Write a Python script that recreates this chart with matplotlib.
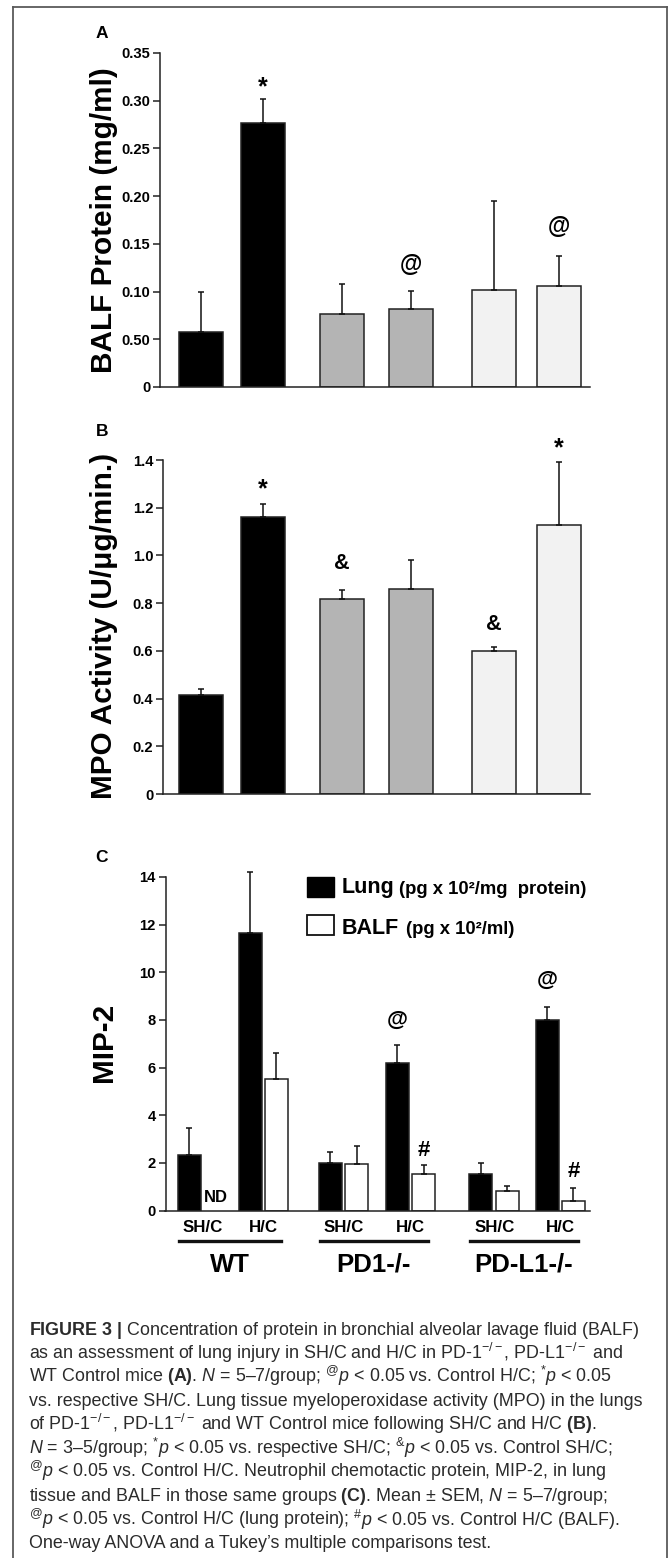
import numpy as np
import matplotlib

matplotlib.use("Agg")

import matplotlib.pyplot as plt
from matplotlib import font_manager
from matplotlib.lines import Line2D
from matplotlib.patches import Rectangle

W, H = 669, 1558

# values
groups = ["WT", "PD1-/-", "PD-L1-/-"]
conditions = ["SH/C", "H/C"]

balf_protein = [0.058, 0.277, 0.077, 0.082, 0.102, 0.106]
balf_protein_sem = [0.042, 0.025, 0.031, 0.019, 0.093, 0.031]

mpo_activity = [0.415, 1.162, 0.818, 0.858, 0.600, 1.128]
mpo_activity_sem = [0.025, 0.055, 0.039, 0.124, 0.018, 0.265]

mip2_lung = [2.32, 11.65, 2.0, 6.21, 1.53, 8.0]
mip2_lung_sem = [1.14, 2.55, 0.47, 0.73, 0.47, 0.56]
mip2_balf = [np.nan, 5.5, 1.95, 1.53, 0.82, 0.38]
mip2_balf_sem = [np.nan, 1.1, 0.77, 0.37, 0.21, 0.56]

protein_ticks = [0, 0.05, 0.10, 0.15, 0.20, 0.25, 0.30, 0.35]
protein_ticklabels = ["0", "0.50", "0.10", "0.15", "0.20", "0.25", "0.30", "0.35"]
mpo_ticks = [0, 0.2, 0.4, 0.6, 0.8, 1.0, 1.2, 1.4]
mpo_ticklabels = ["0", "0.2", "0.4", "0.6", "0.8", "1.0", "1.2", "1.4"]
mip2_ticks = [0, 2, 4, 6, 8, 10, 12, 14]
mip2_ticklabels = ["0", "2", "4", "6", "8", "10", "12", "14"]

# significance marks: (bar index, symbol, offset above error cap in px, size)
sig_a = [(1, "*", 11, 18), (3, "@", 26, 16.5), (5, "@", 30, 16.5)]
sig_b = [(1, "*", 14, 18), (2, "&", 26, 15.5), (4, "&", 22, 15.5), (5, "*", 13, 18)]
sig_c_lung = [(3, "@", 25, 15.5), (5, "@", 26, 15.5)]
sig_c_balf = [(3, "#", 15, 16), (5, "#", 17, 16)]

# caption, one list of (text, kind) runs per printed line
caption_lines = [
    [(r"$\mathbf{FIGURE\ 3\ |}$ Concentration of protein in bronchial alveolar lavage fluid (BALF)", "n")],
    [(r"as an assessment of lung injury in SH/C and H/C in PD-1$^{-/-}$, PD-L1$^{-/-}$ and", "n")],
    [(r"WT Control mice $\mathbf{(A)}$. $N$ = 5–7/group; $^{@}p$ < 0.05 vs. Control H/C; $^{*}p$ < 0.05", "n")],
    [(r"vs. respective SH/C. Lung tissue myeloperoxidase activity (MPO) in the lungs", "n")],
    [(r"of PD-1$^{-/-}$, PD-L1$^{-/-}$ and WT Control mice following SH/C and H/C $\mathbf{(B)}$.", "n")],
    [(r"$N$ = 3–5/group; $^{*}p$ < 0.05 vs. respective SH/C; $^{&}p$ < 0.05 vs. Control SH/C;", "n")],
    [(r"$^{@}p$ < 0.05 vs. Control H/C. Neutrophil chemotactic protein, MIP-2, in lung", "n")],
    [(r"tissue and BALF in those same groups $\mathbf{(C)}$. Mean ± SEM, $N$ = 5–7/group;", "n")],
    [(r"$^{@}p$ < 0.05 vs. Control H/C (lung protein);", "n"), ("#", "sup"),
     (r"$p$ < 0.05 vs. Control H/C (BALF).", "n")],
    [("One-way ANOVA and a Tukey’s multiple comparisons test.", "n")],
]

# layout (pixel positions in the 669 x 1558 picture)
six_bar_x = [200.5, 262.5, 342, 410.5, 493.5, 559]
lung_x = [189.5, 250.5, 330.5, 397.5, 481, 547.5]
balf_x = [215.5, 276.5, 357, 424, 507.5, 573.5]
fills = ["#000000", "#000000", "#b4b4b4", "#b4b4b4", "#f2f2f2", "#f2f2f2"]


def pick_font(names):
    available = {f.name for f in font_manager.fontManager.ttflist}
    for name in names:
        if name in available:
            return name
    return "DejaVu Sans"


CHART_FONT = pick_font(["Liberation Sans", "Arial", "DejaVu Sans"])
CAPTION_FONT = pick_font(["Liberation Sans Narrow", "Liberation Sans", "DejaVu Sans"])

plt.rcParams["font.family"] = [CHART_FONT, "DejaVu Sans"]
plt.rcParams["mathtext.fontset"] = "custom"
plt.rcParams["mathtext.rm"] = CAPTION_FONT
plt.rcParams["mathtext.it"] = CAPTION_FONT + ":italic"
plt.rcParams["mathtext.bf"] = CAPTION_FONT + ":bold"

fig = plt.figure(figsize=(W / 100, H / 100), dpi=100)


def px_axes(left, top, right, bottom):
    return fig.add_axes([left / W, 1 - bottom / H, (right - left) / W, (bottom - top) / H])


def ftext(x, y, s, **kw):
    return fig.text(x / W, 1 - y / H, s, **kw)


def style_axis(ax, ticks, labels, ymax, x0, x1):
    ax.set_xlim(x0, x1)
    ax.set_ylim(0, ymax)
    ax.set_xticks([])
    ax.set_yticks(ticks)
    ax.set_yticklabels(labels, fontsize=10.6, fontweight="bold")
    ax.tick_params(axis="y", length=5, width=1.1, pad=2, color="#222222")
    for side in ["top", "right"]:
        ax.spines[side].set_visible(False)
    for side in ["left", "bottom"]:
        ax.spines[side].set_linewidth(1.1)
        ax.spines[side].set_color("#222222")
    ax.patch.set_alpha(0)


def bars_with_sem(ax, xs, means, sems, width, colors):
    means = np.asarray(means, dtype=float)
    sems = np.asarray(sems, dtype=float)
    ok = ~np.isnan(means)
    xs = np.asarray(xs)[ok]
    ax.bar(xs, means[ok], width=width, color=np.asarray(colors)[ok],
           edgecolor="#222222", linewidth=1.1, zorder=2)
    eb = ax.errorbar(xs, means[ok], yerr=[np.zeros(ok.sum()), sems[ok]], fmt="none",
                     ecolor="#111111", elinewidth=1.1, capsize=2.3, capthick=1.1, zorder=3)
    for artist in list(eb.lines[1]) + list(eb.lines[2]):
        artist.set_clip_on(False)


def mark(ax, xs, means, sems, marks):
    for idx, sym, off, size in marks:
        ax.annotate(sym, xy=(xs[idx], means[idx] + sems[idx]), xytext=(0, off),
                    textcoords="offset pixels", ha="center", va="center",
                    fontsize=size, fontweight="bold", annotation_clip=False)


# Panel A
ax_a = px_axes(160, 53, 590, 387)
style_axis(ax_a, protein_ticks, protein_ticklabels, 0.35, 160, 590)
bars_with_sem(ax_a, six_bar_x, balf_protein, balf_protein_sem, 44, fills)
mark(ax_a, six_bar_x, balf_protein, balf_protein_sem, sig_a)
ftext(102, 33, "A", fontsize=12.5, fontweight="bold", ha="center", va="center")
ftext(104, 220, "BALF Protein (mg/ml)", fontsize=21.4, fontweight="bold",
      rotation=90, ha="center", va="center")

# Panel B
ax_b = px_axes(163, 460, 590, 794)
style_axis(ax_b, mpo_ticks, mpo_ticklabels, 1.4, 163, 590)
bars_with_sem(ax_b, six_bar_x, mpo_activity, mpo_activity_sem, 44, fills)
mark(ax_b, six_bar_x, mpo_activity, mpo_activity_sem, sig_b)
ftext(102, 431, "B", fontsize=12.5, fontweight="bold", ha="center", va="center")
ftext(104, 626, "MPO Activity (U/μg/min.)", fontsize=21.4, fontweight="bold",
      rotation=90, ha="center", va="center")

# Panel C
ax_c = px_axes(165.5, 877, 590, 1210.5)
style_axis(ax_c, mip2_ticks, mip2_ticklabels, 14, 165.5, 590)
bars_with_sem(ax_c, lung_x, mip2_lung, mip2_lung_sem, 23, ["#000000"] * 6)
bars_with_sem(ax_c, balf_x, mip2_balf, mip2_balf_sem, 23, ["#ffffff"] * 6)
mark(ax_c, lung_x, mip2_lung, mip2_lung_sem, sig_c_lung)
mark(ax_c, balf_x, mip2_balf, mip2_balf_sem, sig_c_balf)
ax_c.text(balf_x[0], 0.25, "ND", ha="center", va="bottom", fontsize=12, fontweight="bold")
ftext(102, 857, "C", fontsize=12.5, fontweight="bold", ha="center", va="center")
ftext(104, 1042, "MIP-2", fontsize=21.4, fontweight="bold",
      rotation=90, ha="center", va="center")

# legend of panel C
fig.patches.append(Rectangle((307 / W, 1 - 897 / H), 27 / W, 20.5 / H, transform=fig.transFigure,
                             facecolor="#000000", edgecolor="#000000", linewidth=1.0))
fig.patches.append(Rectangle((307 / W, 1 - 935 / H), 27 / W, 20 / H, transform=fig.transFigure,
                             facecolor="#ffffff", edgecolor="#111111", linewidth=1.3))
ftext(341.5, 893.5, "Lung", fontsize=15.5, fontweight="bold", va="baseline")
ftext(399, 893.5, "(pg x 10²/mg  protein)", fontsize=13.3, fontweight="bold", va="baseline")
ftext(341.5, 933.5, "BALF", fontsize=15.5, fontweight="bold", va="baseline")
ftext(406, 933.5, "(pg x 10²/ml)", fontsize=13.3, fontweight="bold", va="baseline")

# condition and genotype labels under panel C
for g, name in enumerate(groups):
    sh_x = (lung_x[2 * g] + balf_x[2 * g]) / 2
    hc_x = (lung_x[2 * g + 1] + balf_x[2 * g + 1]) / 2
    ftext(sh_x, 1227.5, conditions[0], fontsize=12.2, fontweight="bold", ha="center", va="center")
    ftext(hc_x, 1227.5, conditions[1], fontsize=12.2, fontweight="bold", ha="center", va="center")
    x0, x1 = lung_x[2 * g] - 11, balf_x[2 * g + 1] + 4
    fig.lines.append(Line2D([x0 / W, x1 / W], [1 - 1241 / H] * 2, transform=fig.transFigure,
                            color="#111111", linewidth=2.4))
    ftext((x0 + x1) / 2, 1264.5, name, fontsize=18.5, fontweight="bold", ha="center", va="center")

# frame round figure and caption
frame = dict(transform=fig.transFigure, color="#5a5a5a", linewidth=1.3)
fig.lines.append(Line2D([12.5 / W, 667 / W], [1 - 6.5 / H] * 2, **frame))
fig.lines.append(Line2D([13 / W] * 2, [1 - 6.5 / H, 0], **frame))
fig.lines.append(Line2D([667 / W] * 2, [1 - 6.5 / H, 0], **frame))

CAP_X, CAP_Y, CAP_STEP = 29, 1335, 23.7
caption = []
for line in caption_lines:
    caption.append([(ftext(CAP_X, 0, s, family=[CAPTION_FONT, "DejaVu Sans"], color="#2b2b2b",
                           va="baseline", ha="left"), kind) for s, kind in line])
renderer = fig.canvas.get_renderer()


def layout_caption(size):
    probe = fig.text(0, 0, "x x", fontsize=size, family=CAPTION_FONT)
    wide = probe.get_window_extent(renderer).width
    probe.set_text("xx")
    space = wide - probe.get_window_extent(renderer).width
    probe.remove()
    widths = []
    for i, runs in enumerate(caption):
        x = CAP_X
        y = CAP_Y + CAP_STEP * i
        for t, kind in runs:
            if kind == "sup":
                x += space
                t.set_fontsize(size * 0.7)
                t.set_position((x / W, 1 - (y - 0.36 * size * 100 / 72) / H))
            else:
                t.set_fontsize(size)
                t.set_position((x / W, 1 - y / H))
            x += t.get_window_extent(renderer).width
        widths.append(x - CAP_X)
    return widths


# size the caption so its widest line ends where the original's lines end
widths = layout_caption(12)
layout_caption(12 * 614.0 / max(widths))

fig.savefig("out.png", dpi=100, facecolor="white")
plt.close(fig)
